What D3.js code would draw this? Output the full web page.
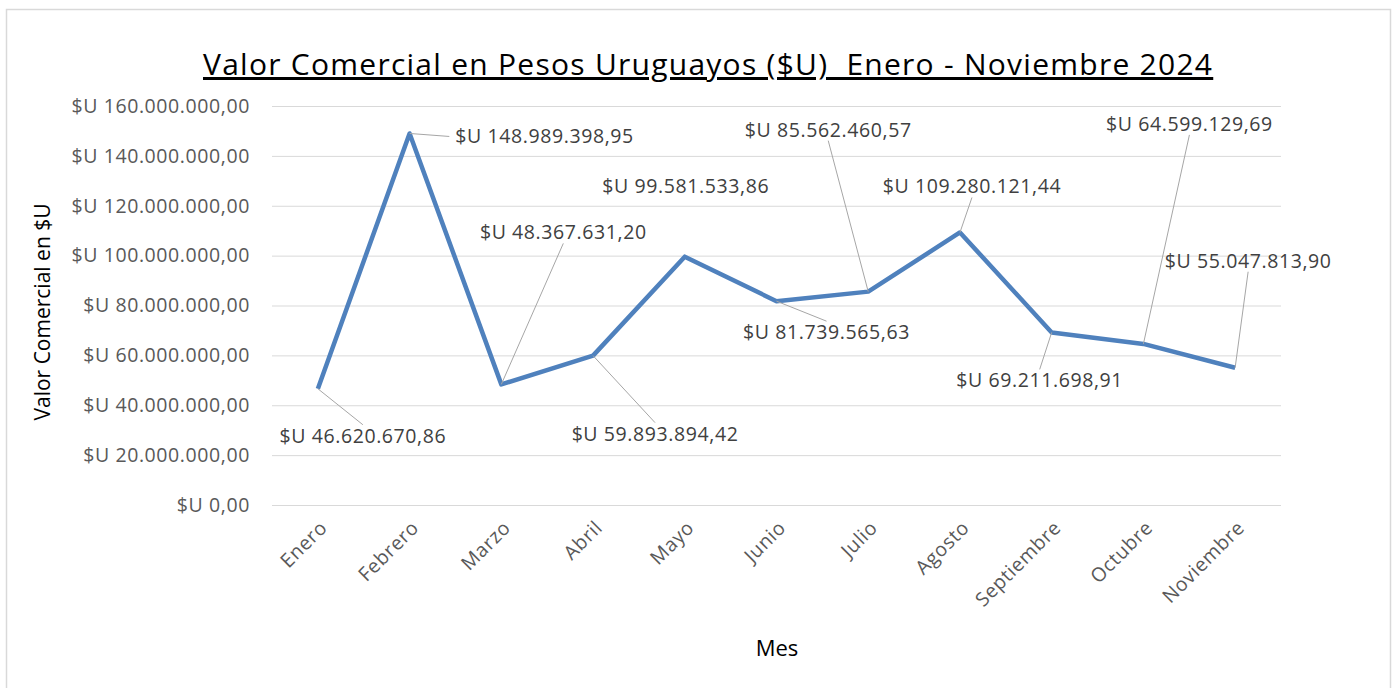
<!DOCTYPE html>
<html>
<head>
<meta charset="utf-8">
<script src="https://cdn.jsdelivr.net/npm/d3@7"></script>
<style>
  body { margin: 0; background: #fff; }
  text { font-family: "Open Sans", "Noto Sans", sans-serif; white-space: pre; }
</style>
</head>
<body>
<svg id="chart" width="1397" height="688"></svg>
<script>
// data
var meses = ["Enero","Febrero","Marzo","Abril","Mayo","Junio","Julio","Agosto","Septiembre","Octubre","Noviembre"];
var valores = [46620670.86, 148989398.95, 48367631.20, 59893894.42, 99581533.86, 81739565.63,
               85562460.57, 109280121.44, 69211698.91, 64599129.69, 55047813.90];
var yTicks = [0, 20e6, 40e6, 60e6, 80e6, 100e6, 120e6, 140e6, 160e6];

// where each data label sits relative to its point (label centre), and whether a leader is drawn
var labelDx = [45, 135, 62, 62, 1, 50, -40, 12, -12, 46, 13];
var labelDy = [47, 3, -152, 78, -71, 31, -162, -46, 48, -220, -107];
var leader  = [true, true, true, true, false, true, true, true, true, true, true];

var svg = d3.select("#chart");

var loc = d3.formatLocale({decimal: ",", thousands: ".", grouping: [3], currency: ["$U ", ""]});
var fmt = loc.format("$,.2f");

var x = d3.scalePoint().domain(meses).range([272, 1281]).padding(0.5);
var y = d3.scaleLinear().domain([0, 160e6]).range([505, 106]);

var grey = "#595959", fs = 19.5, ls = "0.6px";

// stretch a text to a wanted width with letter spacing
function fitWidth(t, target) {
    var n = t.text().length;
    var w = t.node().getComputedTextLength();
    t.attr("letter-spacing", ((target - w) / (n - 1)) + "px");
}

// outer frame
svg.append("rect").attr("x", 6.5).attr("y", 9.5).attr("width", 1384).attr("height", 690)
   .attr("fill", "none").attr("stroke", "#d9d9d9").attr("stroke-width", 1.5);

// title
var title = svg.append("text").attr("x", 203).attr("y", 75)
   .attr("font-size", 30).attr("fill", "#000").attr("text-decoration", "underline")
   .text("Valor Comercial en Pesos Uruguayos ($U)  Enero - Noviembre 2024");
fitWidth(title, 1009);

// y axis with grid
var yAxis = d3.axisLeft(y).tickValues(yTicks).tickSize(-1009).tickPadding(22).tickFormat(fmt);
var gy = svg.append("g").attr("transform", "translate(272,0)").call(yAxis);
gy.select(".domain").remove();
gy.selectAll(".tick line").attr("stroke", "#d9d9d9").attr("stroke-width", 1);
gy.selectAll(".tick text").attr("font-size", fs).attr("fill", grey).attr("letter-spacing", ls)
  .attr("font-family", "'Open Sans', sans-serif");

// x axis labels
var xAxis = d3.axisBottom(x).tickSize(0).tickPadding(0);
var gx = svg.append("g").attr("transform", "translate(0,505)").call(xAxis);
gx.select(".domain").remove();
gx.selectAll(".tick text")
  .attr("font-size", fs).attr("fill", grey).attr("letter-spacing", ls)
  .attr("font-family", "'Open Sans', sans-serif")
  .attr("text-anchor", "end").attr("dy", 0).attr("y", 0)
  .attr("transform", "translate(10,24) rotate(-45)");

// axis titles
var yt = svg.append("text").attr("transform", "translate(50,312) rotate(-90)").attr("text-anchor", "middle")
   .attr("font-size", 21).attr("fill", "#000").text("Valor Comercial en $U");
var mes = svg.append("text").attr("x", 777).attr("y", 656).attr("text-anchor", "middle")
   .attr("font-size", 22).attr("fill", "#000").text("Mes");

// line
var line = d3.line().x(function(d, i){ return x(meses[i]); }).y(function(d){ return y(d); });
svg.append("path").datum(valores).attr("d", line)
   .attr("fill", "none").attr("stroke", "#4f81bd").attr("stroke-width", 4.5)
   .attr("stroke-linejoin", "round");

// data labels
var labels = svg.append("g");
valores.forEach(function(v, i){
    var px = x(meses[i]), py = y(v);
    var cx = px + labelDx[i], cy = py + labelDy[i];
    var t = labels.append("text").attr("x", cx).attr("y", cy + 7).attr("text-anchor", "middle")
        .attr("font-size", fs).attr("letter-spacing", ls).attr("fill", "#404040").text(fmt(v));
    if (!leader[i]) return;
    var w = t.node().getComputedTextLength() / 2, h = 11;
    var ex, ey;
    if (Math.abs(labelDy[i]) > h + 4) {
        ex = cx; ey = labelDy[i] > 0 ? cy - h : cy + h;
    } else {
        ey = cy; ex = labelDx[i] > 0 ? cx - w - 6 : cx + w + 6;
    }
    labels.append("line").attr("x1", px).attr("y1", py).attr("x2", ex).attr("y2", ey)
        .attr("stroke", "#a6a6a6").attr("stroke-width", 1);
});
</script>
</body>
</html>
